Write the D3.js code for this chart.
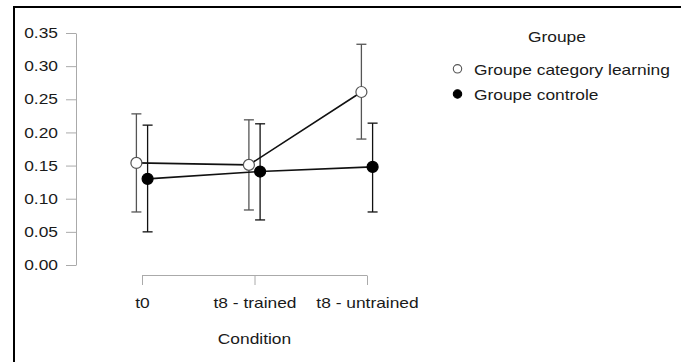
<!DOCTYPE html>
<html>
<head>
<meta charset="utf-8">
<script src="https://cdn.jsdelivr.net/npm/d3@7"></script>
<style>
  html, body { margin: 0; padding: 0; background: #fff; }
  svg { display: block; font-family: "Liberation Sans", Arial, sans-serif; }
</style>
</head>
<body>
<svg id="chart" width="681" height="362"></svg>
<script>
// Conditions on the x axis
const conditions = ["t0", "t8 - trained", "t8 - untrained"];
// Group labels (legend)
const groups = ["Groupe category learning", "Groupe controle"];
// Means per condition
const meanLearning = [0.154, 0.151, 0.261];
const meanControl  = [0.130, 0.141, 0.148];
// Error bar bounds per condition
const lowLearning  = [0.080, 0.083, 0.190];
const highLearning = [0.228, 0.219, 0.333];
const lowControl   = [0.050, 0.068, 0.080];
const highControl  = [0.211, 0.213, 0.214];
// Y axis ticks
const yTicks = [0, 0.05, 0.10, 0.15, 0.20, 0.25, 0.30, 0.35];

const svg = d3.select("#chart");
const W = 681, H = 362;

const fontSize = 14.6;
const stretch = 1.19;          // horizontal widening of all labels
const textColor = "#1a1a1a";
const axisColor = "#aaa";

// widen a text element horizontally around its own anchor x
function widen(sel) {
  sel.each(function () {
    const t = d3.select(this);
    const ax = +t.attr("x") || 0;
    t.attr("transform", `translate(${ax},0) scale(${stretch},1) translate(${-ax},0)`);
  });
}

// Frame (left and top edges)
svg.append("path")
  .attr("d", `M14,${H} L14,7 L${W},7`)
  .attr("fill", "none").attr("stroke", "#000").attr("stroke-width", 2);

const y = d3.scaleLinear().domain([0, 0.35]).range([265, 33]);
const x = d3.scalePoint().domain(conditions).range([142, 367]);
const dodge = 5.6;

// Y axis
const yAxis = svg.append("g").attr("transform", "translate(76,0)")
  .call(d3.axisLeft(y).tickValues(yTicks).tickFormat(d3.format(".2f")).tickSize(10).tickSizeOuter(0).tickPadding(8));
yAxis.select(".domain").attr("stroke", axisColor);
yAxis.selectAll(".tick line").attr("stroke", axisColor);
yAxis.selectAll(".tick text").attr("font-size", fontSize).attr("fill", textColor)
  .attr("font-family", "Liberation Sans, Arial, sans-serif").call(widen);

// X axis
const xAxis = svg.append("g").attr("transform", "translate(0,275.5)")
  .call(d3.axisBottom(x).tickSize(9.5).tickSizeOuter(0).tickPadding(13));
xAxis.select(".domain").attr("stroke", axisColor).attr("d", `M${x(conditions[0])},0H${x(conditions[2])}`);
xAxis.selectAll(".tick line").attr("stroke", axisColor);
xAxis.selectAll(".tick text").attr("font-size", fontSize).attr("fill", textColor)
  .attr("font-family", "Liberation Sans, Arial, sans-serif").call(widen);

svg.append("text").attr("x", x(conditions[1])).attr("y", 344)
  .attr("text-anchor", "middle").attr("font-size", fontSize).attr("fill", textColor)
  .text("Condition").call(widen);

// Series
const series = [
  { name: groups[0], mean: meanLearning, low: lowLearning, high: highLearning, off: -dodge, fill: "#fff", stroke: "#555", barColor: "#555" },
  { name: groups[1], mean: meanControl, low: lowControl, high: highControl, off: dodge, fill: "#000", stroke: "#000", barColor: "#111" }
];

series.forEach(s => {
  s.pts = conditions.map((c, i) => ({ cx: x(c) + s.off, m: s.mean[i], lo: s.low[i], hi: s.high[i] }));
  const g = svg.append("g").attr("stroke", s.barColor).attr("stroke-width", 1.3);
  g.selectAll("line.stem").data(s.pts).join("line").attr("class", "stem")
    .attr("x1", p => p.cx).attr("x2", p => p.cx).attr("y1", p => y(p.lo)).attr("y2", p => y(p.hi));
  g.selectAll("line.capLo").data(s.pts).join("line").attr("class", "capLo")
    .attr("x1", p => p.cx - 5).attr("x2", p => p.cx + 5).attr("y1", p => y(p.lo)).attr("y2", p => y(p.lo));
  g.selectAll("line.capHi").data(s.pts).join("line").attr("class", "capHi")
    .attr("x1", p => p.cx - 5).attr("x2", p => p.cx + 5).attr("y1", p => y(p.hi)).attr("y2", p => y(p.hi));
});

series.forEach(s => {
  svg.append("path").datum(s.pts)
    .attr("d", d3.line().x(p => p.cx).y(p => y(p.m)))
    .attr("fill", "none").attr("stroke", "#111").attr("stroke-width", 1.6);
});

series.forEach(s => {
  svg.append("g").selectAll("circle").data(s.pts).join("circle")
    .attr("cx", p => p.cx).attr("cy", p => y(p.m)).attr("r", 5.5)
    .attr("fill", s.fill).attr("stroke", s.stroke).attr("stroke-width", 1.2);
});

// Legend
const legend = svg.append("g");
legend.append("text").attr("x", 557).attr("y", 42.5).attr("text-anchor", "middle")
  .attr("font-size", fontSize).attr("fill", textColor).text("Groupe").call(widen);
series.forEach((s, i) => {
  const ly = 68.8 + i * 25.2;
  legend.append("circle").attr("cx", 457.5).attr("cy", ly).attr("r", 4.2)
    .attr("fill", s.fill).attr("stroke", s.stroke).attr("stroke-width", 1.1);
  legend.append("text").attr("x", 474).attr("y", ly + 6).attr("font-size", fontSize)
    .attr("fill", textColor).text(s.name).call(widen);
});
</script>
</body>
</html>
